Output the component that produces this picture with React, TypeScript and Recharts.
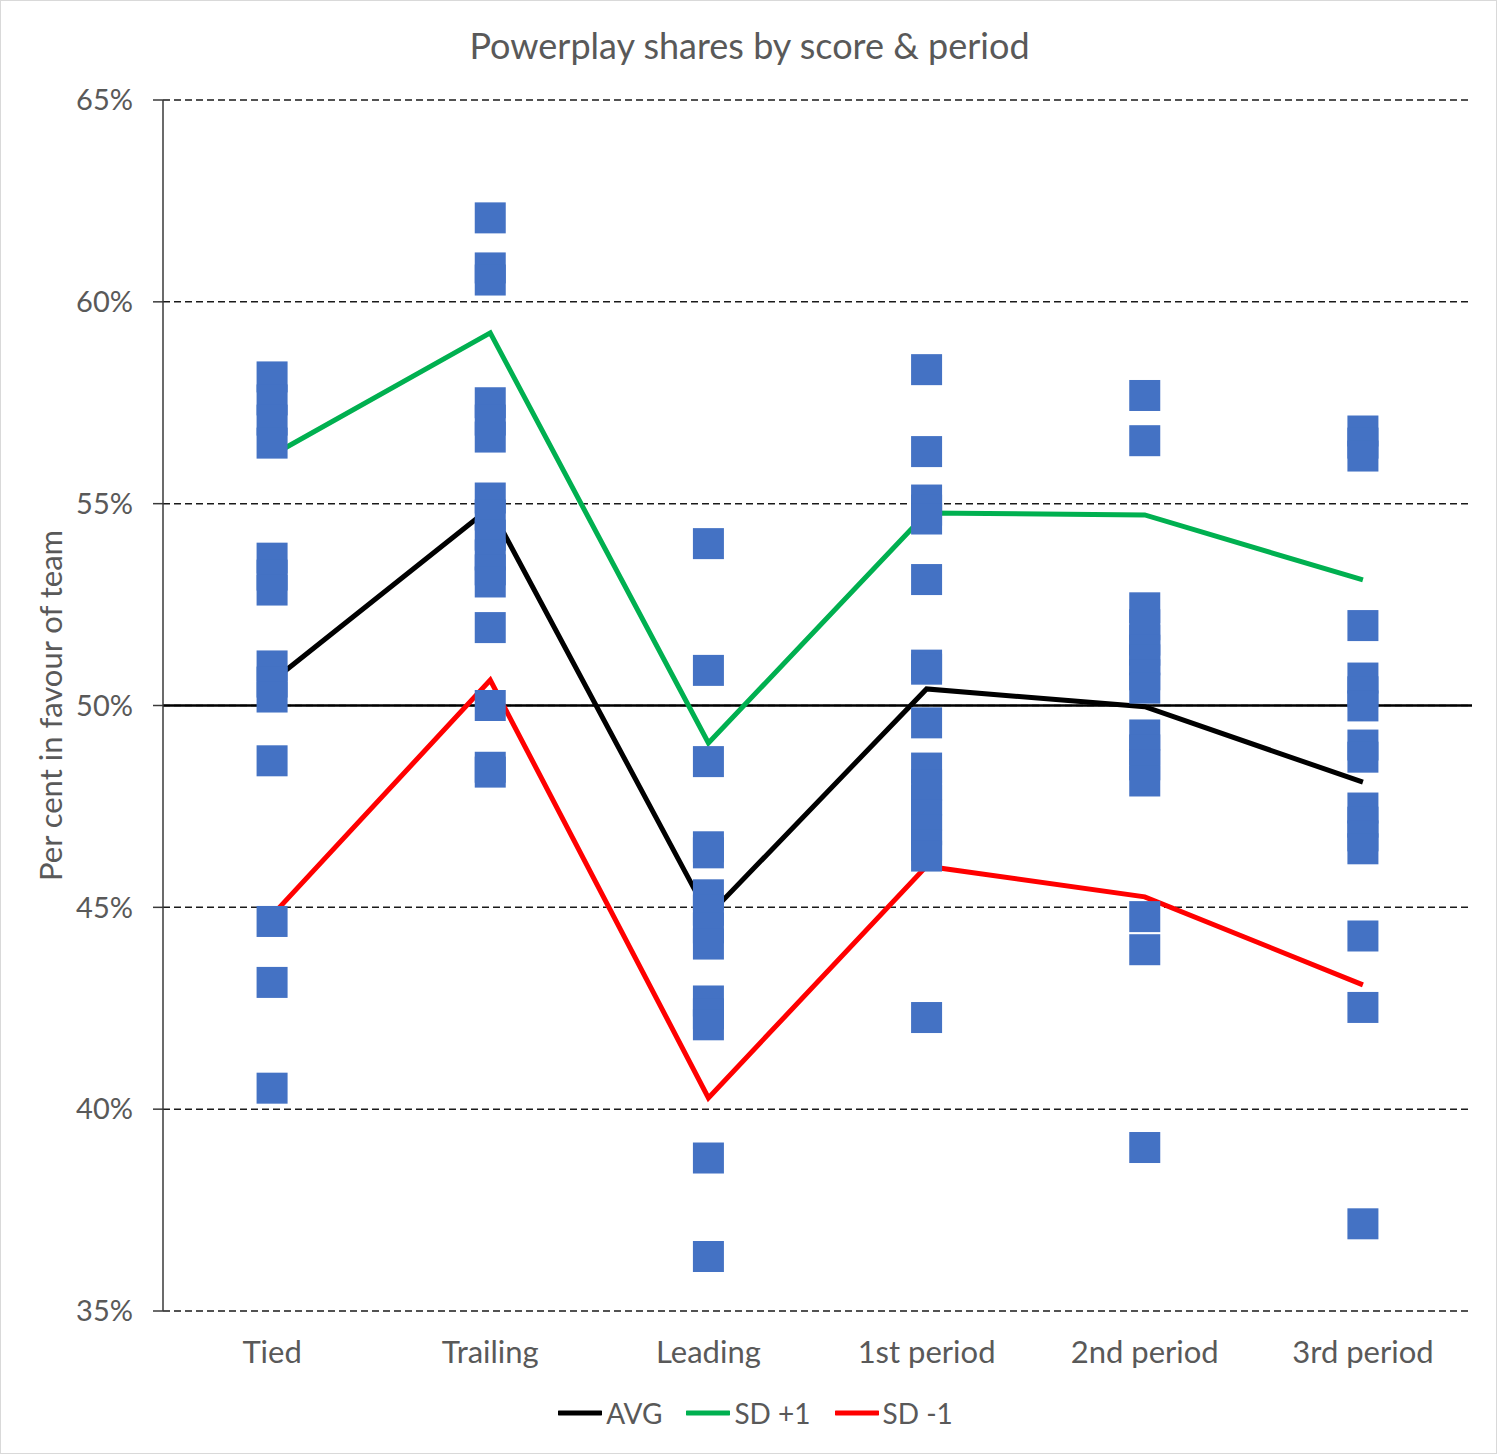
import React from "react";
import {
  ComposedChart,
  Line,
  Scatter,
  XAxis,
  YAxis,
  CartesianGrid,
  ReferenceLine,
  Legend,
  Label,
} from "recharts";

const categories = ["Tied", "Trailing", "Leading", "1st period", "2nd period", "3rd period"];

// individual team shares per category (%)
const tied = [58.14, 57.57, 57.07, 56.5, 53.65, 53.23, 52.86, 50.98, 50.58, 50.21, 48.63, 44.65, 43.14, 40.52];
const trailing = [62.08, 60.84, 60.54, 57.5, 57.07, 56.65, 55.14, 54.72, 54.22, 53.73, 53.36, 53.06, 51.93, 50.0, 48.47, 48.35];
const leading = [54.01, 50.87, 48.61, 46.5, 46.35, 45.31, 44.93, 44.49, 44.09, 42.68, 42.36, 42.09, 38.79, 36.35];
const firstPeriod = [58.32, 56.29, 55.09, 54.84, 54.62, 53.12, 51.0, 50.9, 49.57, 48.45, 48.03, 47.66, 47.29, 46.92, 46.54, 46.27, 42.27];
const secondPeriod = [57.68, 56.56, 52.42, 52.0, 51.62, 51.37, 51.13, 50.76, 50.43, 49.27, 48.9, 48.53, 48.13, 44.77, 43.95, 39.05];
const thirdPeriod = [56.8, 56.5, 56.18, 51.98, 50.68, 50.34, 49.99, 49.02, 48.72, 47.46, 47.11, 46.77, 46.45, 44.29, 42.52, 37.16];

const avg = [50.6, 54.9, 44.8, 50.41, 49.97, 48.1];
const sdPlus = [56.2, 59.23, 49.07, 54.77, 54.72, 53.11];
const sdMinus = [44.8, 50.63, 40.28, 46.02, 45.26, 43.08];

const yTicks = [35, 40, 45, 50, 55, 60, 65];

const groups = [tied, trailing, leading, firstPeriod, secondPeriod, thirdPeriod];
const points = groups.flatMap((vals, i) => vals.map((v) => ({ x: i, v })));
const toLine = (vals: number[]) => vals.map((v, i) => ({ x: i, v }));

const FONT = "Lato, 'Liberation Sans', sans-serif";
const GREY = "#595959";

const legendItems = [
  { name: "AVG", color: "#000000" },
  { name: "SD +1", color: "#00B050" },
  { name: "SD -1", color: "#FF0000" },
];

const Square = (props: any) => {
  const { cx, cy } = props;
  return <rect x={cx - 15.5} y={cy - 15.5} width={31} height={31} fill="#4472C4" />;
};

const LegendContent = () => (
  <div
    style={{
      height: 40,
      display: "flex",
      justifyContent: "center",
      alignItems: "center",
      fontFamily: FONT,
      fontSize: 28,
      color: GREY,
      paddingLeft: 14,
    }}
  >
    {legendItems.map((it, i) => (
      <div
        key={it.name}
        style={{ display: "flex", alignItems: "center", marginLeft: i === 0 ? 0 : 24 }}
      >
        <svg width={44} height={10} style={{ marginRight: 4 }}>
          <line x1={1} y1={5} x2={43} y2={5} stroke={it.color} strokeWidth={5} strokeLinecap="round" />
        </svg>
        <span>{it.name}</span>
      </div>
    ))}
  </div>
);

export default function App() {
  return (
    <div
      style={{
        position: "absolute",
        left: 0,
        top: 0,
        width: 1497,
        height: 1454,
        boxSizing: "border-box",
        border: "1px solid #d9d9d9",
        background: "#fff",
      }}
    >
      <div
        style={{
          position: "absolute",
          top: 22,
          left: 0,
          width: 1497,
          textAlign: "center",
          fontFamily: FONT,
          fontSize: 36,
          lineHeight: "44px",
          color: GREY,
        }}
      >
        Powerplay shares by score &amp; period
      </div>
      <div style={{ position: "absolute", left: -1, top: -1 }}>
        <ComposedChart width={1497} height={1454} margin={{ top: 100, right: 25, left: 0, bottom: 21 }}>
          <CartesianGrid vertical={false} stroke="#1a1a1a" strokeWidth={1.5} strokeDasharray="7 4" />
          <XAxis
            type="number"
            dataKey="x"
            domain={[-0.5, 5.5]}
            ticks={[0, 1, 2, 3, 4, 5]}
            tickFormatter={(i: number) => categories[i] ?? ""}
            axisLine={false}
            tickLine={false}
            tickSize={0}
            tickMargin={30}
            height={82}
            interval={0}
            tick={{ fill: GREY, fontSize: 31, fontFamily: FONT }}
          />
          <YAxis
            type="number"
            domain={[35, 65]}
            ticks={yTicks}
            tickFormatter={(v: number) => `${v}%`}
            width={163}
            axisLine={{ stroke: "#3a3a3a", strokeWidth: 1.5 }}
            tickLine={{ stroke: "#3a3a3a", strokeWidth: 1.5 }}
            tickSize={10}
            tickMargin={20}
            interval={0}
            tick={{ fill: GREY, fontSize: 29, fontFamily: FONT }}
          >
            <Label
              content={(p: any) => {
                const vb = p.viewBox || {};
                const cx = (vb.x ?? 0) + 50;
                const cy = (vb.y ?? 0) + (vb.height ?? 0) / 2;
                return (
                  <text
                    x={cx}
                    y={cy}
                    transform={`rotate(-90 ${cx} ${cy})`}
                    textAnchor="middle"
                    dominantBaseline="central"
                    fill={GREY}
                    fontSize={31}
                    fontFamily={FONT}
                  >
                    Per cent in favour of team
                  </text>
                );
              }}
            />
          </YAxis>
          <ReferenceLine y={50} stroke="#000" strokeWidth={2.5} />
          <Line data={toLine(avg)} dataKey="v" name="AVG" stroke="#000000" strokeWidth={5} dot={false} isAnimationActive={false} legendType="line" />
          <Line data={toLine(sdPlus)} dataKey="v" name="SD +1" stroke="#00B050" strokeWidth={5} dot={false} isAnimationActive={false} legendType="line" />
          <Line data={toLine(sdMinus)} dataKey="v" name="SD -1" stroke="#FF0000" strokeWidth={5} dot={false} isAnimationActive={false} legendType="line" />
          <Scatter data={points} dataKey="v" shape={Square} isAnimationActive={false} legendType="none" />
          <Legend
            verticalAlign="bottom"
            align="center"
            height={40}
            wrapperStyle={{ left: 0, width: 1497 }}
            content={LegendContent}
          />
        </ComposedChart>
      </div>
    </div>
  );
}
